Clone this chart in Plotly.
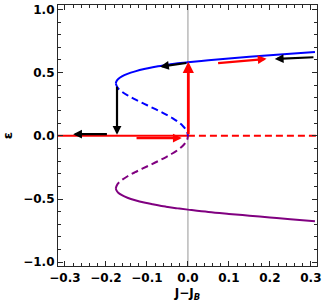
import plotly.graph_objects as go

# ---- data ----
# upper stable branch (blue, solid)
J_up = [-0.176, -0.1746, -0.170, -0.161, -0.1475, -0.1286, -0.104, -0.086, -0.0729, -0.0548, -0.045, -0.025, 0.0, 0.05, 0.10, 0.15, 0.20, 0.25, 0.31]
eps_up = [0.414, 0.43, 0.45, 0.47, 0.49, 0.51, 0.53, 0.542, 0.55, 0.56, 0.565, 0.574, 0.582, 0.598, 0.612, 0.625, 0.637, 0.65, 0.663]
# upper unstable branch (blue, dashed)
J_upd = [-0.176, -0.1713, -0.1614, -0.1472, -0.1301, -0.1113, -0.0917, -0.0724, -0.0542, -0.0379, -0.0239, -0.0129, -0.0051, -0.00128, 0.0]
eps_upd = [0.414, 0.38, 0.35, 0.32, 0.29, 0.26, 0.23, 0.20, 0.17, 0.14, 0.11, 0.08, 0.05, 0.025, 0.0]
# lower unstable branch (purple, dashed)
J_lod = [-0.176, -0.1713, -0.1614, -0.1472, -0.1301, -0.1113, -0.0917, -0.0724, -0.0542, -0.0379, -0.0239, -0.0129, -0.0051, -0.00128, 0.0]
eps_lod = [-0.414, -0.38, -0.35, -0.32, -0.29, -0.26, -0.23, -0.20, -0.17, -0.14, -0.11, -0.08, -0.05, -0.025, 0.0]
# lower stable branch (purple, solid)
J_lo = [-0.176, -0.1746, -0.170, -0.161, -0.1475, -0.1286, -0.104, -0.086, -0.0729, -0.0548, -0.045, -0.025, 0.0, 0.05, 0.10, 0.15, 0.20, 0.25, 0.31]
eps_lo = [-0.414, -0.43, -0.45, -0.47, -0.49, -0.51, -0.53, -0.542, -0.55, -0.56, -0.565, -0.574, -0.584, -0.603, -0.618, -0.632, -0.646, -0.66, -0.675]
# trivial branch eps = 0 (red): solid for J<0, dashed for J>0
J_triv_solid = [-0.317, 0.0]
J_triv_dash = [0.0, 0.317]
eps_triv = [0.0, 0.0]

# arrows: tail and head points
arrow_tail_J = [0.31, 0.07, 0.0, -0.173, -0.194, -0.129, 0.001]
arrow_tail_eps = [0.622, 0.574, 0.578, 0.40, 0.013, -0.018, 0.0]
arrow_head_J = [0.212, 0.192, -0.068, -0.173, -0.28, -0.015, 0.001]
arrow_head_eps = [0.608, 0.609, 0.547, 0.008, 0.013, -0.018, 0.586]

x_ticks = [-0.3, -0.2, -0.1, 0.0, 0.1, 0.2, 0.3]
y_ticks = [-1.0, -0.5, 0.0, 0.5, 1.0]

# ---- styles ----
BLUE = "rgb(0,0,255)"
PURPLE = "rgb(128,0,128)"
RED = "rgb(255,0,0)"
DASH = "7px,4px"
arrow_color = ["black", "red", "black", "black", "black", "red", "red"]
arrow_lw = [2.2, 2.2, 2.2, 2.2, 2.2, 2.2, 2.8]

fig = go.Figure()
fig.add_trace(go.Scatter(x=J_triv_solid, y=eps_triv, mode="lines", line=dict(color=RED, width=2)))
fig.add_trace(go.Scatter(x=J_triv_dash, y=eps_triv, mode="lines", line=dict(color=RED, width=2, dash=DASH)))
fig.add_trace(go.Scatter(x=J_up, y=eps_up, mode="lines", line=dict(color=BLUE, width=2, shape="spline")))
fig.add_trace(go.Scatter(x=J_upd, y=eps_upd, mode="lines", line=dict(color=BLUE, width=2, dash=DASH, shape="spline")))
fig.add_trace(go.Scatter(x=J_lod, y=eps_lod, mode="lines", line=dict(color=PURPLE, width=2, dash=DASH, shape="spline")))
fig.add_trace(go.Scatter(x=J_lo, y=eps_lo, mode="lines", line=dict(color=PURPLE, width=2, shape="spline")))

fig.add_vline(x=0, line=dict(color="rgb(185,185,185)", width=1.5), layer="below")

for tx, ty, hx, hy, c, w in zip(arrow_tail_J, arrow_tail_eps, arrow_head_J, arrow_head_eps, arrow_color, arrow_lw):
    fig.add_annotation(x=hx, y=hy, ax=tx, ay=ty, xref="x", yref="y", axref="x", ayref="y",
                       text="", showarrow=True, arrowhead=2, arrowsize=0.8,
                       arrowwidth=w, arrowcolor=c, standoff=0, startstandoff=0)

font_tick = dict(family="DejaVu Sans", size=12, color="black", weight="bold")
common = dict(showline=True, linecolor="rgb(40,40,40)", linewidth=1.2, mirror="ticks",
              ticks="inside", ticklen=5, tickwidth=1, tickcolor="rgb(40,40,40)",
              showgrid=False, zeroline=False, tickfont=font_tick, tickformat=".1f",
              automargin=False)

fig.update_xaxes(range=[-0.317, 0.315], tickvals=x_ticks,
                 minor=dict(ticks="inside", ticklen=3, dtick=0.02, tick0=-0.3, tickcolor="rgb(40,40,40)", showgrid=False),
                 title=dict(text="J−J<sub><i>B</i></sub>", font=dict(family="DejaVu Sans", size=12, color="black", weight="bold"), standoff=5),
                 **common)
fig.update_yaxes(range=[-1.03, 1.035], tickvals=y_ticks,
                 minor=dict(ticks="inside", ticklen=3, dtick=0.1, tick0=0, tickcolor="rgb(40,40,40)", showgrid=False),
                 title=dict(text="ε", font=dict(family="DejaVu Sans", size=13, color="black", weight="bold"), standoff=8),
                 **common)

fig.update_layout(width=333, height=304, margin=dict(l=58, r=16, t=5, b=38, autoexpand=False),
                  plot_bgcolor="white", paper_bgcolor="white", showlegend=False)

fig.write_html("out.html", config={"displayModeBar": False},
               post_script="document.body.style.margin='0px';document.body.style.padding='0px';")
